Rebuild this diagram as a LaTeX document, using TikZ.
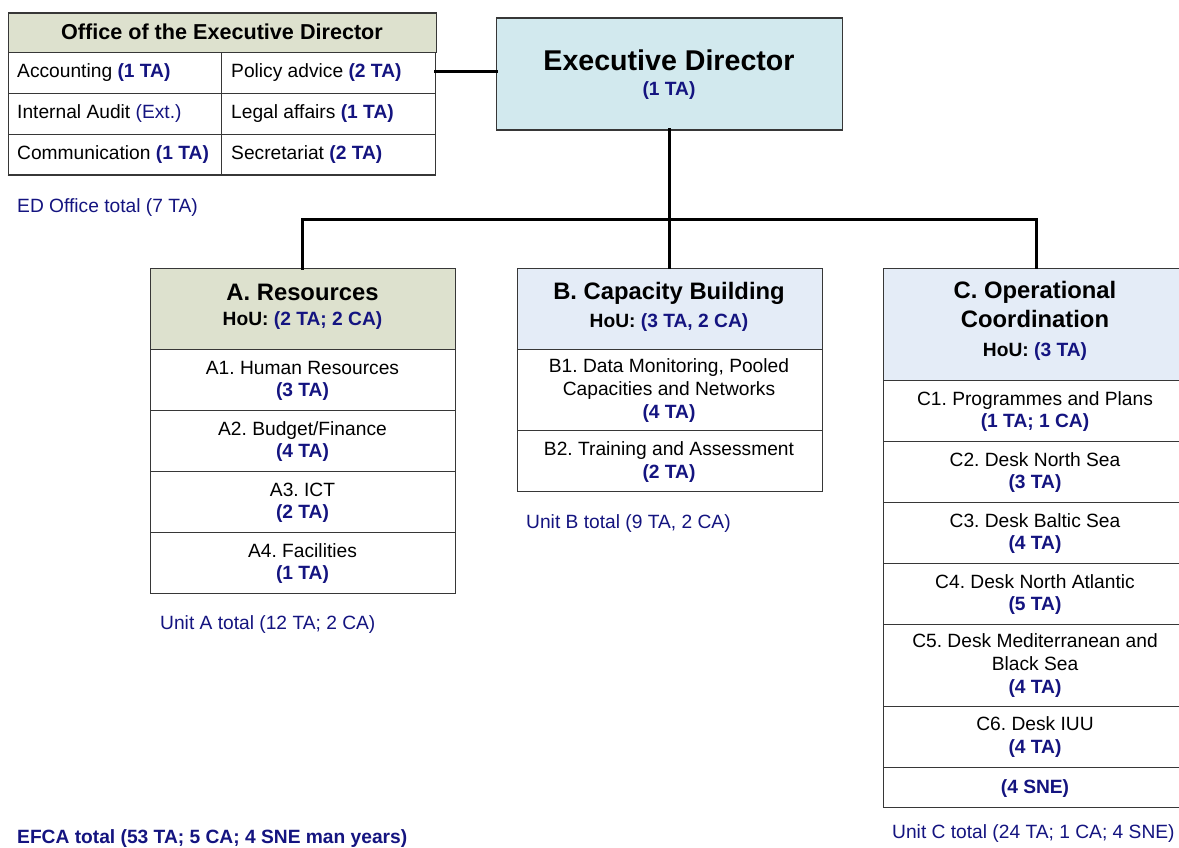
\documentclass[tikz,border=0pt]{standalone}
\usepackage{fontspec}
\setmainfont{Liberation Sans}
\frenchspacing
\definecolor{navy}{RGB}{20,20,128}
\definecolor{olivehdr}{RGB}{221,225,206}
\definecolor{edblue}{RGB}{210,233,238}
\definecolor{unitblue}{RGB}{228,236,247}
\definecolor{bordergray}{RGB}{55,55,55}
\newcommand{\fsz}[1]{\fontsize{#1}{#1}\selectfont}
\newcommand{\nv}[1]{\textcolor{navy}{\bfseries #1}}
\tikzset{
  boxcell/.style={draw=bordergray, line width=1.3pt, inner sep=0pt, anchor=north west},
  txt/.style={anchor=base, inner sep=0pt, font=\fsz{19.2}},
  ltxt/.style={anchor=base west, inner sep=0pt, font=\fsz{19.2}},
  ttl/.style={anchor=base, inner sep=0pt, font=\fsz{23.8}\bfseries},
  hou/.style={anchor=base, inner sep=0pt, font=\fsz{19.2}\bfseries},
  conn/.style={line width=3pt, line cap=rect},
  total/.style={anchor=base west, inner sep=0pt, font=\fsz{19.2}, text=navy}
}
\begin{document}
\begin{tikzpicture}[x=1pt,y=-1pt]
\clip (0,0) rectangle (1179,848);
\fill[white] (0,0) rectangle (1179,848);

% ---------- Office of the Executive Director ----------
\node[boxcell, fill=olivehdr, minimum width=428, minimum height=39.5] (offhdr) at (7.5,12.5) {};
\node[boxcell, minimum width=213.5, minimum height=41] (o11) at (7.5,52) {};
\node[boxcell, minimum width=214, minimum height=41] (o12) at (221,52) {};
\node[boxcell, minimum width=213.5, minimum height=41] (o21) at (7.5,93) {};
\node[boxcell, minimum width=214, minimum height=41] (o22) at (221,93) {};
\node[boxcell, minimum width=213.5, minimum height=40.5] (o31) at (7.5,134) {};
\node[boxcell, minimum width=214, minimum height=40.5] (o32) at (221,134) {};
\draw[bordergray, line width=1pt] (7.5,176) -- (435,176);
\node[anchor=base, inner sep=0pt, font=\fsz{21.6}\bfseries] (offttl) at (222,40) {Office of the Executive Director};
\node[ltxt] (acc) at (17,78) {Accounting \nv{(1 TA)}};
\node[ltxt] (pol) at (231,78) {Policy advice \nv{(2 TA)}};
\node[ltxt] (aud) at (17,119) {Internal Audit \textcolor{navy}{(Ext.)}};
\node[ltxt] (leg) at (231,119) {Legal affairs \nv{(1 TA)}};
\node[ltxt] (com) at (17,160) {Communication \nv{(1 TA)}};
\node[ltxt] (sec) at (231,160) {Secretariat \nv{(2 TA)}};
\node[total] (edtot) at (17,212) {ED Office total (7 TA)};

% ---------- Executive Director ----------
\node[boxcell, fill=edblue, minimum width=345.5, minimum height=112] (ed) at (496,17.3) {};
\node[anchor=base, inner sep=0pt, font=\fsz{28.6}\bfseries] (edttl) at (669,71) {Executive Director};
\node[hou] (edta) at (669,96) {\textcolor{navy}{(1 TA)}};

% ---------- connectors ----------
\coordinate (offR) at (435,71.5);
\coordinate (edL) at (496,71.5);
\draw[conn] (offR) -- (edL);
\coordinate (edB) at (669,129.3);
\coordinate (bus) at (669,219.5);
\coordinate (busA) at (302.5,219.5);
\coordinate (busC) at (1036,219.5);

% ---------- Unit A ----------
\node[boxcell, fill=olivehdr, minimum width=305, minimum height=80.5] (ahdr) at (150,268) {};
\node[boxcell, minimum width=305, minimum height=61] (a1) at (150,348.5) {};
\node[boxcell, minimum width=305, minimum height=61] (a2) at (150,409.5) {};
\node[boxcell, minimum width=305, minimum height=61] (a3) at (150,470.5) {};
\node[boxcell, minimum width=305, minimum height=61.5] (a4) at (150,531.5) {};
\node[ttl] (attl) at (302.5,300) {A. Resources};
\node[hou] (ahou) at (302.5,325) {HoU: \textcolor{navy}{(2 TA; 2 CA)}};
\node[txt] (a1t) at (302.5,374) {A1. Human Resources};
\node[hou] (a1n) at (302.5,396.5) {\textcolor{navy}{(3 TA)}};
\node[txt] (a2t) at (302.5,435) {A2. Budget/Finance};
\node[hou] (a2n) at (302.5,457.5) {\textcolor{navy}{(4 TA)}};
\node[txt] (a3t) at (302.5,496) {A3. ICT};
\node[hou] (a3n) at (302.5,518.5) {\textcolor{navy}{(2 TA)}};
\node[txt] (a4t) at (302.5,557) {A4. Facilities};
\node[hou] (a4n) at (302.5,579.5) {\textcolor{navy}{(1 TA)}};
\node[total] (atot) at (160,629) {Unit A total (12 TA; 2 CA)};

% ---------- Unit B ----------
\node[boxcell, fill=unitblue, minimum width=304.5, minimum height=81] (bhdr) at (517,267.5) {};
\node[boxcell, minimum width=304.5, minimum height=81.5] (b1) at (517,348.5) {};
\node[boxcell, minimum width=304.5, minimum height=60.5] (b2) at (517,430) {};
\node[ttl] (bttl) at (669,299) {B. Capacity Building};
\node[hou] (bhou) at (669,327) {HoU: \textcolor{navy}{(3 TA, 2 CA)}};
\node[txt] (b1t) at (669,372) {B1. Data Monitoring, Pooled};
\node[txt] (b1u) at (669,395) {Capacities and Networks};
\node[hou] (b1n) at (669,418) {\textcolor{navy}{(4 TA)}};
\node[txt] (b2t) at (669,455) {B2. Training and Assessment};
\node[hou] (b2n) at (669,478) {\textcolor{navy}{(2 TA)}};
\node[total] (btot) at (526,528) {Unit B total (9 TA, 2 CA)};

% ---------- Unit C ----------
\node[boxcell, fill=unitblue, minimum width=304, minimum height=112] (chdr) at (883,267.5) {};
\node[boxcell, minimum width=304, minimum height=61] (c1) at (883,379.5) {};
\node[boxcell, minimum width=304, minimum height=61] (c2) at (883,440.5) {};
\node[boxcell, minimum width=304, minimum height=61] (c3) at (883,501.5) {};
\node[boxcell, minimum width=304, minimum height=61] (c4) at (883,562.5) {};
\node[boxcell, minimum width=304, minimum height=82] (c5) at (883,623.5) {};
\node[boxcell, minimum width=304, minimum height=61] (c6) at (883,705.5) {};
\node[boxcell, minimum width=304, minimum height=40.5] (c7) at (883,766.5) {};
\node[ttl] (cttl) at (1035,298) {C. Operational};
\node[ttl] (cttl2) at (1035,327) {Coordination};
\node[hou] (chou) at (1035,356) {HoU: \textcolor{navy}{(3 TA)}};
\node[txt] (c1t) at (1035,405) {C1. Programmes and Plans};
\node[hou] (c1n) at (1035,427.5) {\textcolor{navy}{(1 TA; 1 CA)}};
\node[txt] (c2t) at (1035,466) {C2. Desk North Sea};
\node[hou] (c2n) at (1035,488.5) {\textcolor{navy}{(3 TA)}};
\node[txt] (c3t) at (1035,527) {C3. Desk Baltic Sea};
\node[hou] (c3n) at (1035,549.5) {\textcolor{navy}{(4 TA)}};
\node[txt] (c4t) at (1035,588) {C4. Desk North Atlantic};
\node[hou] (c4n) at (1035,610.5) {\textcolor{navy}{(5 TA)}};
\node[txt] (c5t) at (1035,647) {C5. Desk Mediterranean and};
\node[txt] (c5u) at (1035,670) {Black Sea};
\node[hou] (c5n) at (1035,693.5) {\textcolor{navy}{(4 TA)}};
\node[txt] (c6t) at (1035,730) {C6. Desk IUU};
\node[hou] (c6n) at (1035,753) {\textcolor{navy}{(4 TA)}};
\node[hou] (c7n) at (1035,793) {\textcolor{navy}{(4 SNE)}};
\node[total] (ctot) at (892,838) {Unit C total (24 TA; 1 CA; 4 SNE)};

% ---------- org connectors ----------
\draw[conn] (edB) -- (bus);
\draw[conn] (busA) -- (busC);
\draw[conn] (busA) -- (ahdr.north -| busA);
\draw[conn] (bus) -- (bhdr.north -| bus);
\draw[conn] (busC) -- (chdr.north -| busC);

% ---------- grand total ----------
\node[total, font=\fsz{19.2}\bfseries] (efca) at (17,843) {EFCA total (53 TA; 5 CA; 4 SNE man years)};
\end{tikzpicture}
\end{document}
